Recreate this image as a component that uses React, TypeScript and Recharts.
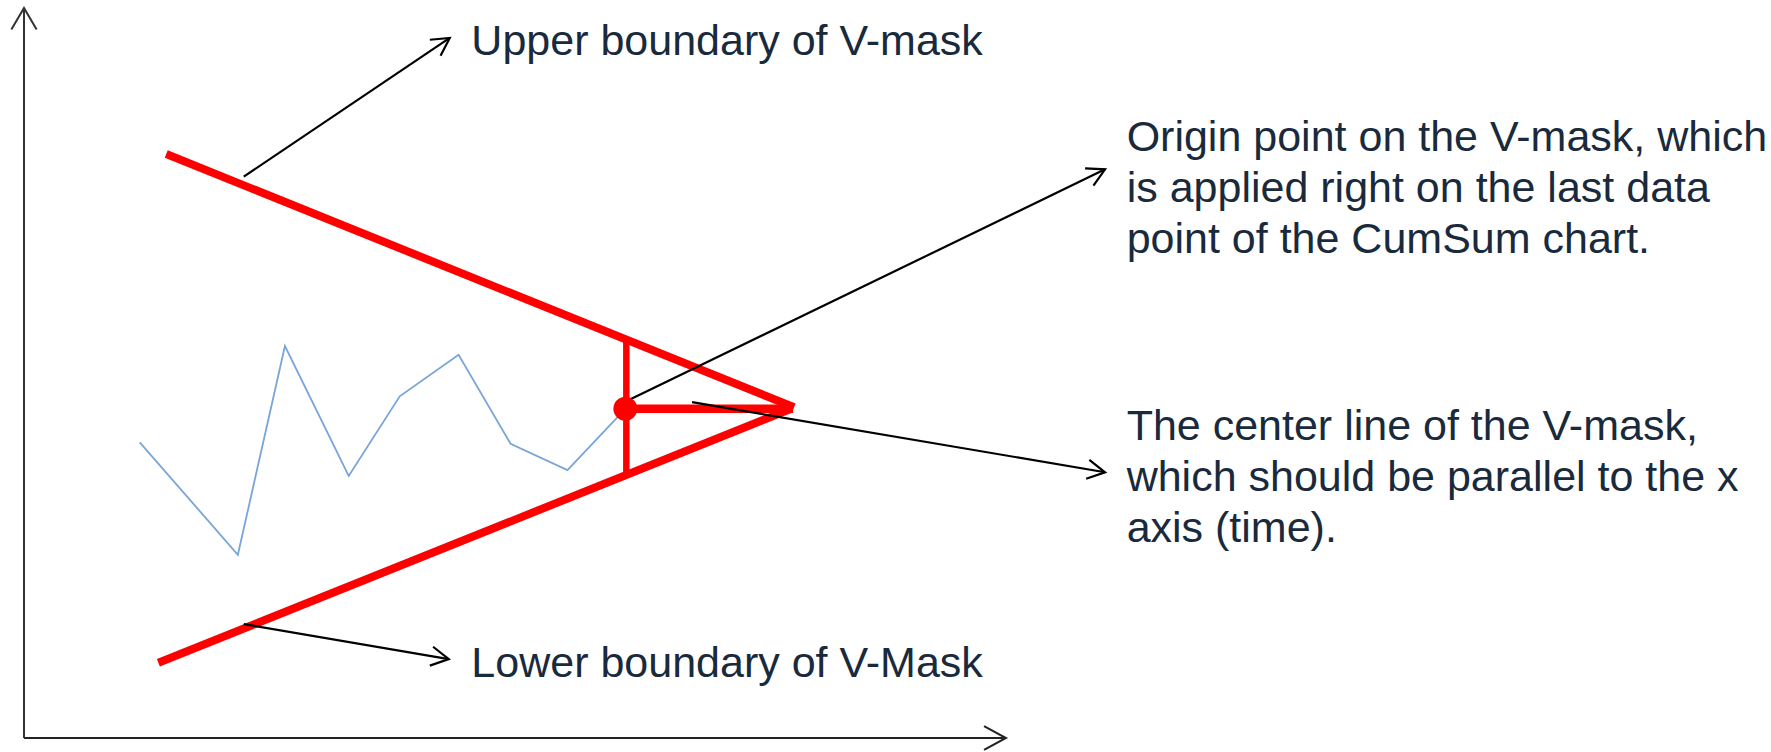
import React from "react";
import { LineChart, Line, XAxis, YAxis, ReferenceLine, ReferenceDot } from "recharts";

// chart units: x = time, y = cumulative sum, both 0..100 over the drawn axes
const cusumX = [11.8, 21.8, 26.6, 33.1, 38.3, 44.3, 49.6, 55.4, 61.3];
const cusumY = [40.5, 25.1, 53.7, 35.9, 46.8, 52.5, 40.3, 36.7, 45.1];

// V-mask pieces
const upperX = [14.5, 78.5];
const upperY = [80.0, 45.3];
const lowerX = [13.7, 78.2];
const lowerY = [10.3, 45.1];
const centerX = [61.3, 78.4];
const centerY = [45.1, 45.1];
const crossX = [61.4, 61.4];
const crossY = [54.6, 36.0];

// annotation arrows, [from x, from y, to x, to y]
const arrowUpper = [22.4, 76.9, 43.4, 95.9];
const arrowLower = [22.4, 15.6, 43.3, 10.8];
const arrowOrigin = [61.5, 46.2, 110.2, 77.9];
const arrowCenter = [68.1, 46.0, 110.2, 36.4];

// axes (with arrow heads)
const xAxisLine = [0, 0, 100.1, 0];
const yAxisLine = [0, 0, 0, 100];

// notes: anchor point [x, y] and lines
const upperNoteAt = [45.6, 93.6];
const upperNote = ["Upper boundary of V-mask"];
const lowerNoteAt = [45.6, 8.4];
const lowerNote = ["Lower boundary of V-Mask"];
const originNoteAt = [112.4, 80.4];
const originNote = [
  "Origin point on the V-mask, which",
  "is applied right on the last data",
  "point of the CumSum chart.",
];
const centerNoteAt = [112.4, 40.8];
const centerNote = [
  "The center line of the V-mask,",
  "which should be parallel to the x",
  "axis (time).",
];

const toPts = (xs: number[], ys: number[]) => xs.map((x, i) => ({ x, y: ys[i] }));

const cusum = toPts(cusumX, cusumY);
const upper = toPts(upperX, upperY);
const lower = toPts(lowerX, lowerY);
const center = toPts(centerX, centerY);
const cross = toPts(crossX, crossY);

const TEXT = "#1a2a3d";
const RED = "#ff0000";

const arrowShape = (len: number, ang: number) => (p: any) => {
  const { x1, y1, x2, y2, stroke, strokeWidth } = p;
  const a = Math.atan2(y2 - y1, x2 - x1);
  const ax = x2 - len * Math.cos(a - ang);
  const ay = y2 - len * Math.sin(a - ang);
  const bx = x2 - len * Math.cos(a + ang);
  const by = y2 - len * Math.sin(a + ang);
  return (
    <g>
      <line x1={x1} y1={y1} x2={x2} y2={y2} stroke={stroke} strokeWidth={strokeWidth} />
      <polyline
        points={`${ax},${ay} ${x2},${y2} ${bx},${by}`}
        fill="none"
        stroke={stroke}
        strokeWidth={strokeWidth}
      />
    </g>
  );
};

const NoteLabel = (props: any) => {
  const { viewBox, lines } = props;
  return (
    <text
      x={viewBox.x}
      y={viewBox.y}
      fill={TEXT}
      fontSize={43}
      fontFamily="'Liberation Sans', Arial, sans-serif"
    >
      {lines.map((s: string, i: number) => (
        <tspan key={i} x={viewBox.x} dy={i === 0 ? 0 : 51}>
          {s}
        </tspan>
      ))}
    </text>
  );
};

const seg = (a: number[]) => [
  { x: a[0], y: a[1] },
  { x: a[2], y: a[3] },
];

export default function App() {
  return (
    <div style={{ position: "absolute", left: 0, top: 0, background: "#fff" }}>
      <LineChart
        width={1771}
        height={752}
        margin={{ top: 8, right: 766, bottom: 14, left: 24 }}
      >
        <XAxis type="number" dataKey="x" domain={[0, 100]} hide />
        <YAxis type="number" domain={[0, 100]} hide />

        <ReferenceLine
          segment={seg(xAxisLine)}
          ifOverflow="visible"
          stroke="#222"
          strokeWidth={2}
          shape={arrowShape(25, 0.5)}
        />
        <ReferenceLine
          segment={seg(yAxisLine)}
          ifOverflow="visible"
          stroke="#333"
          strokeWidth={2}
          shape={arrowShape(25, 0.53)}
        />

        <Line
          data={cusum}
          dataKey="y"
          type="linear"
          stroke="#7aa5d8"
          strokeWidth={1.8}
          dot={false}
          isAnimationActive={false}
        />
        <Line data={upper} dataKey="y" type="linear" stroke={RED} strokeWidth={8} dot={false} isAnimationActive={false} />
        <Line data={lower} dataKey="y" type="linear" stroke={RED} strokeWidth={8} dot={false} isAnimationActive={false} />
        <Line data={center} dataKey="y" type="linear" stroke={RED} strokeWidth={8.5} dot={false} isAnimationActive={false} />
        <Line data={cross} dataKey="y" type="linear" stroke={RED} strokeWidth={6.5} dot={false} isAnimationActive={false} />

        <ReferenceDot x={cusumX[8]} y={cusumY[8]} r={12} fill={RED} stroke="none" ifOverflow="visible" />

        {[arrowUpper, arrowLower, arrowOrigin, arrowCenter].map((a, i) => (
          <ReferenceLine
            key={i}
            segment={seg(a)}
            ifOverflow="visible"
            stroke="#000"
            strokeWidth={2.2}
            shape={arrowShape(20, 0.5)}
          />
        ))}

        {[
          [upperNoteAt, upperNote],
          [lowerNoteAt, lowerNote],
          [originNoteAt, originNote],
          [centerNoteAt, centerNote],
        ].map(([at, lines]: any, i) => (
          <ReferenceDot
            key={"n" + i}
            x={at[0]}
            y={at[1]}
            r={0}
            fill="none"
            stroke="none"
            ifOverflow="visible"
            label={<NoteLabel lines={lines} />}
          />
        ))}
      </LineChart>
    </div>
  );
}
